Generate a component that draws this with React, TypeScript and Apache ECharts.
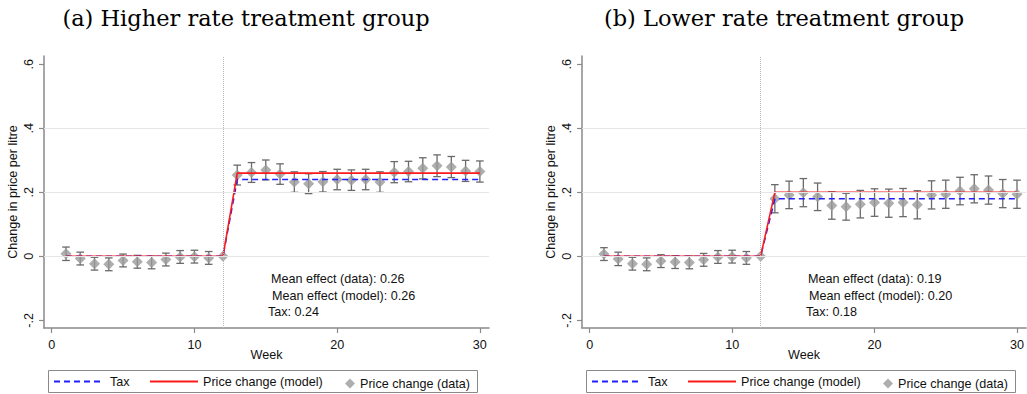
import React, { useEffect, useRef } from 'react';
import * as echarts from 'echarts';

// ---------- data ----------
const weeks = [1, 2, 3, 4, 5, 6, 7, 8, 9, 10, 11, 12, 13, 14, 15, 16, 17, 18, 19, 20, 21, 22, 23, 24, 25, 26, 27, 28, 29, 30];

// (a) Higher rate treatment group
const dataA = [0.008, -0.007, -0.023, -0.025, -0.013, -0.017, -0.019, -0.010, -0.002, -0.001, -0.005, 0,
  0.254, 0.262, 0.270, 0.257, 0.232, 0.227, 0.233, 0.240, 0.238, 0.240, 0.232, 0.263, 0.265, 0.275, 0.283, 0.279, 0.267, 0.265];
const ciA = [0.021, 0.02, 0.02, 0.02, 0.02, 0.02, 0.02, 0.02, 0.02, 0.02, 0.02, 0,
  0.031, 0.031, 0.031, 0.032, 0.032, 0.031, 0.032, 0.032, 0.032, 0.032, 0.032, 0.033, 0.032, 0.033, 0.034, 0.033, 0.033, 0.033];
const modelA = [0, 0, 0, 0, 0, 0, 0, 0, 0, 0, 0, 0,
  0.26, 0.26, 0.26, 0.26, 0.26, 0.26, 0.26, 0.26, 0.26, 0.26, 0.26, 0.26, 0.26, 0.26, 0.26, 0.26, 0.26, 0.26];
const taxA = [0, 0, 0, 0, 0, 0, 0, 0, 0, 0, 0, 0,
  0.24, 0.24, 0.24, 0.24, 0.24, 0.24, 0.24, 0.24, 0.24, 0.24, 0.24, 0.24, 0.24, 0.24, 0.24, 0.24, 0.24, 0.24];
const notesA = ['Mean effect (data): 0.26', 'Mean effect (model): 0.26', 'Tax: 0.24'];

// (b) Lower rate treatment group
const dataB = [0.007, -0.008, -0.023, -0.025, -0.015, -0.018, -0.019, -0.011, -0.002, -0.001, -0.005, 0,
  0.180, 0.192, 0.199, 0.186, 0.159, 0.155, 0.163, 0.168, 0.166, 0.168, 0.161, 0.192, 0.194, 0.204, 0.211, 0.207, 0.196, 0.194];
const ciB = [0.02, 0.021, 0.02, 0.02, 0.02, 0.02, 0.02, 0.02, 0.02, 0.02, 0.02, 0,
  0.044, 0.043, 0.044, 0.043, 0.043, 0.042, 0.043, 0.043, 0.044, 0.044, 0.044, 0.044, 0.044, 0.043, 0.044, 0.044, 0.044, 0.044];
const modelB = [0, 0, 0, 0, 0, 0, 0, 0, 0, 0, 0, 0,
  0.20, 0.20, 0.20, 0.20, 0.20, 0.20, 0.20, 0.20, 0.20, 0.20, 0.20, 0.20, 0.20, 0.20, 0.20, 0.20, 0.20, 0.20];
const taxB = [0, 0, 0, 0, 0, 0, 0, 0, 0, 0, 0, 0,
  0.18, 0.18, 0.18, 0.18, 0.18, 0.18, 0.18, 0.18, 0.18, 0.18, 0.18, 0.18, 0.18, 0.18, 0.18, 0.18, 0.18, 0.18];
const notesB = ['Mean effect (data): 0.19', 'Mean effect (model): 0.20', 'Tax: 0.18'];

const titles = ['(a) Higher rate treatment group', '(b) Lower rate treatment group'];
const xTicks = [0, 10, 20, 30];
const yTicks = [-0.2, 0, 0.2, 0.4, 0.6];
const gridYs = [0, 0.2, 0.4];
const treatWeek = 12;
const seriesNames = ['Tax', 'Price change (model)', 'Price change (data)'];

// ---------- styling ----------
const SANS = 'Liberation Sans, Arial, sans-serif';
const SERIF = 'DejaVu Serif, serif';
const FS = 12.6;
const AXIS_COLOR = '#8a8a8a';
const BLUE = '#2020ff';
const RED = '#ff1a1a';
const GRAY = '#9a9a9a';
const BAR = '#6a6a6a';

function fmtY(v: number) {
  if (Math.abs(v) < 1e-9) return '0';
  const s = String(Math.abs(v)).replace(/^0/, '');
  return (v < 0 ? '-' : '') + s;
}

export default function App() {
  const ref = useRef<HTMLDivElement>(null);
  useEffect(() => {
    if (!ref.current) return;
    const chart = echarts.init(ref.current, undefined, { renderer: 'svg' });

    const panels = [
      { data: dataA, ci: ciA, model: modelA, tax: taxA, notes: notesA, left: 44, notesX: [271, 272, 268] },
      { data: dataB, ci: ciB, model: modelB, tax: taxB, notes: notesB, left: 582, notesX: [808, 809, 806] },
    ];

    const grids: any[] = [];
    const xAxes: any[] = [];
    const yAxes: any[] = [];
    const series: any[] = [];
    const legends: any[] = [];
    const graphics: any[] = [];
    const titleOpts: any[] = [];

    panels.forEach((p, i) => {
      grids.push({ left: p.left, top: 56, width: 445, height: 272 });
      xAxes.push({
        type: 'value', gridIndex: i, min: -0.54, max: 30.64,
        axisLine: { onZero: false, lineStyle: { color: AXIS_COLOR, width: 1.5 } },
        axisTick: { customValues: xTicks, length: 5, lineStyle: { color: AXIS_COLOR, width: 1.2 } },
        axisLabel: { customValues: xTicks, margin: 10, fontSize: FS, color: '#111', fontFamily: SANS },
        splitLine: { show: false },
        name: 'Week', nameLocation: 'middle', nameGap: 20, nameMoveOverlap: false,
        nameTextStyle: { fontSize: FS, color: '#111', fontFamily: SANS },
      });
      yAxes.push({
        type: 'value', gridIndex: i, min: -0.224, max: 0.626,
        axisLine: { onZero: false, lineStyle: { color: AXIS_COLOR, width: 1.5 } },
        axisTick: { customValues: yTicks, length: 5, lineStyle: { color: AXIS_COLOR, width: 1.2 } },
        axisLabel: { customValues: yTicks, rotate: 90, margin: 9, fontSize: FS, color: '#111', fontFamily: SANS, formatter: fmtY },
        splitLine: { show: false },
        name: 'Change in price per litre', nameLocation: 'middle', nameGap: 25,
        nameTextStyle: { fontSize: FS, color: '#111', fontFamily: SANS },
      });

      // gridlines + reference week
      series.push({
        type: 'line', name: 'grid' + i, xAxisIndex: i, yAxisIndex: i, data: [], z: 0, silent: true,
        markLine: {
          silent: true, symbol: ['none', 'none'], label: { show: false }, animation: false,
          lineStyle: { color: '#e6e6e6', width: 1, type: 'solid' },
          data: [
            ...gridYs.map((v) => ({ yAxis: v })),
            { xAxis: treatWeek, lineStyle: { color: '#b5b5b5', width: 1, type: 'dotted' } },
          ],
        },
      });

      // error bars
      series.push({
        type: 'custom', name: 'ci' + i, xAxisIndex: i, yAxisIndex: i, z: 1, silent: true,
        data: weeks.map((w, k) => [w, p.data[k] - p.ci[k], p.data[k] + p.ci[k], p.ci[k]]).filter((d) => d[3] > 0),
        encode: { x: 0, y: [1, 2] },
        renderItem: (params: any, api: any) => {
          const x = api.value(0);
          const top = api.coord([x, api.value(2)]);
          const bot = api.coord([x, api.value(1)]);
          const hw = 3.8;
          const style = { stroke: BAR, lineWidth: 1.3, fill: 'none' };
          return {
            type: 'group',
            children: [
              { type: 'line', shape: { x1: top[0], y1: top[1], x2: bot[0], y2: bot[1] }, style },
              { type: 'line', shape: { x1: top[0] - hw, y1: top[1], x2: top[0] + hw, y2: top[1] }, style },
              { type: 'line', shape: { x1: bot[0] - hw, y1: bot[1], x2: bot[0] + hw, y2: bot[1] }, style },
            ],
          };
        },
      });

      series.push({
        type: 'scatter', name: seriesNames[2], xAxisIndex: i, yAxisIndex: i, z: 2,
        symbol: 'diamond', symbolSize: 11, itemStyle: { color: GRAY },
        data: weeks.map((w, k) => [w, p.data[k]]),
      });
      series.push({
        type: 'line', name: seriesNames[0], xAxisIndex: i, yAxisIndex: i, z: 3,
        symbol: 'none', showSymbol: false, color: BLUE,
        lineStyle: { color: BLUE, width: 1.6, type: [6, 4] },
        data: weeks.map((w, k) => [w, p.tax[k]]),
      });
      series.push({
        type: 'line', name: seriesNames[1], xAxisIndex: i, yAxisIndex: i, z: 4,
        symbol: 'none', showSymbol: false, color: RED,
        lineStyle: { color: RED, width: 1.6 },
        data: weeks.map((w, k) => [w, p.model[k]]),
      });

      const off = p.left - 44;
      const legendBase = {
        orient: 'horizontal', padding: 0, itemGap: 0, selectedMode: false,
        textStyle: { fontSize: FS, color: '#111', fontFamily: SANS },
      };
      const noSymbol = { opacity: 0, color: 'transparent', borderColor: 'transparent', borderWidth: 0 };
      legends.push({ ...legendBase, left: 53 + off, top: 375, itemWidth: 47, itemHeight: 14, itemStyle: noSymbol, data: [seriesNames[0]], textStyle: { ...legendBase.textStyle, padding: [0, 0, 0, 4] } });
      legends.push({ ...legendBase, left: 149 + off, top: 375, itemWidth: 48, itemHeight: 14, itemStyle: noSymbol, data: [seriesNames[1]] });
      legends.push({ ...legendBase, left: 345 + off, top: 377, itemWidth: 10, itemHeight: 10, data: [seriesNames[2]] });

      graphics.push({
        type: 'rect', silent: true, z: -1,
        shape: { x: 48.5 + off, y: 370.5, width: 429, height: 22 },
        style: { fill: 'none', stroke: '#8a8a8a', lineWidth: 1 },
      });
      const ys = [279, 296, 312];
      p.notes.forEach((t, k) => {
        graphics.push({
          type: 'text', silent: true, x: p.notesX[k], y: ys[k],
          style: { text: t, fontSize: FS, fontFamily: SANS, fill: '#111', verticalAlign: 'middle', align: 'left' },
        });
      });

      titleOpts.push({
        text: titles[i], left: p.left + 202, top: 6, padding: 0, textAlign: 'center',
        textStyle: { fontFamily: SERIF, fontWeight: 'normal', fontSize: 22.5, color: '#000' },
      });
    });

    chart.setOption({
      animation: false,
      backgroundColor: '#fff',
      title: titleOpts,
      grid: grids,
      xAxis: xAxes,
      yAxis: yAxes,
      legend: legends,
      series,
      graphic: graphics,
    });
    return () => chart.dispose();
  }, []);

  return <div ref={ref} style={{ position: 'fixed', left: 0, top: 0, width: 1027, height: 394 }} />;
}
